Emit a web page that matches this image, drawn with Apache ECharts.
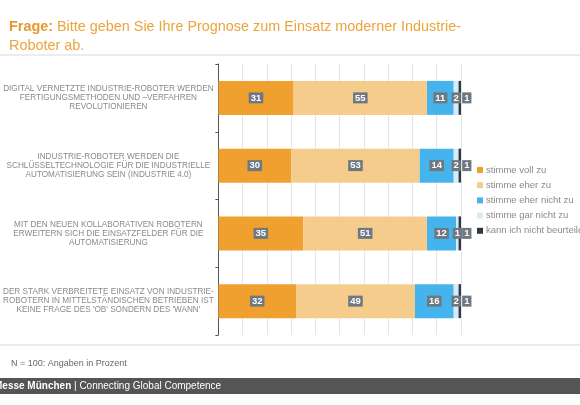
<!DOCTYPE html>
<html>
<head>
<meta charset="utf-8">
<script src="https://cdn.jsdelivr.net/npm/echarts@6/dist/echarts.min.js"></script>
<style>
  html, body { margin: 0; padding: 0; background: #fff; }
  #chart { width: 580px; height: 405px; }
</style>
</head>
<body>
<div id="chart"></div>
<script>
var statements = [
  'DIGITAL VERNETZTE INDUSTRIE-ROBOTER WERDEN\nFERTIGUNGSMETHODEN UND \u2013VERFAHREN\nREVOLUTIONIEREN',
  'INDUSTRIE-ROBOTER WERDEN DIE\nSCHL\u00dcSSELTECHNOLOGIE F\u00dcR DIE INDUSTRIELLE\nAUTOMATISIERUNG SEIN (INDUSTRIE 4.0)',
  'MIT DEN NEUEN KOLLABORATIVEN ROBOTERN\nERWEITERN SICH DIE EINSATZFELDER F\u00dcR DIE\nAUTOMATISIERUNG',
  'DER STARK VERBREITETE EINSATZ VON INDUSTRIE-\nROBOTERN IN MITTELST\u00c4NDISCHEN BETRIEBEN IST\nKEINE FRAGE DES \'OB\' SONDERN DES \'WANN\''
];
var answers = ['stimme voll zu', 'stimme eher zu', 'stimme eher nicht zu', 'stimme gar nicht zu', 'kann ich nicht beurteilen'];
var vollZu      = [31, 30, 35, 32];
var eherZu      = [55, 53, 51, 49];
var eherNicht   = [11, 14, 12, 16];
var garNicht    = [2, 2, 1, 2];
var nichtBeurt  = [1, 1, 1, 1];
var colors = ['#f0a02e', '#f6cc8d', '#45b4ec', '#d5ebf6', '#2d3a44'];

var seriesData = [vollZu, eherZu, eherNicht, garNicht, nichtBeurt];

var myChart = echarts.init(document.getElementById('chart'));

var option = {
  animation: false,
  textStyle: { fontFamily: 'Liberation Sans, Arial, sans-serif' },
  color: colors,
  title: {
    left: 4,
    top: 13,
    text: '{b|Frage:} Bitte geben Sie Ihre Prognose zum Einsatz moderner Industrie-\nRoboter ab.',
    textStyle: {
      color: '#eca43c',
      fontSize: 14.4,
      fontWeight: 'normal',
      lineHeight: 19,
      rich: {
        b: { color: '#e49a30', fontSize: 14.4, fontWeight: 'bold', lineHeight: 19 }
      }
    }
  },
  legend: {
    orient: 'vertical',
    left: 472,
    top: 160,
    itemWidth: 6,
    itemHeight: 6,
    itemGap: 5.2,
    icon: 'rect',
    data: answers,
    textStyle: { color: '#8a8a8a', fontSize: 9.5, padding: [0, 0, 0, -2] }
  },
  grid: {
    left: 218,
    right: 119,
    top: 64,
    bottom: 70
  },
  xAxis: {
    type: 'value',
    min: 0,
    max: 100,
    interval: 10,
    axisLine: { show: false },
    axisTick: { show: false },
    axisLabel: { show: false },
    splitLine: { lineStyle: { color: '#e6e6e6' } }
  },
  yAxis: {
    type: 'category',
    inverse: true,
    data: statements,
    axisLine: { lineStyle: { color: '#555' } },
    axisTick: { show: true, length: 3, lineStyle: { color: '#555' } },
    axisLabel: {
      margin: 110,
      align: 'center',
      color: '#8a8a8a',
      fontSize: 8.2,
      lineHeight: 9
    }
  },
  graphic: [
    { type: 'rect', shape: { x: 0, y: 54, width: 580, height: 2 }, style: { fill: '#ececec' } },
    { type: 'rect', shape: { x: 0, y: 344, width: 580, height: 2 }, style: { fill: '#ececec' } },
    { type: 'text', left: 11, top: 359, style: { text: 'N = 100: Angaben in Prozent', fill: '#666', fontSize: 9, fontFamily: 'Liberation Sans, Arial, sans-serif' } },
    { type: 'rect', shape: { x: 0, y: 378, width: 580, height: 16 }, style: { fill: '#555' } },
    {
      type: 'text', x: -6, y: 381,
      style: {
        text: '{b|Messe M\u00fcnchen} | Connecting Global Competence',
        fill: '#fff', fontSize: 10, fontFamily: 'Liberation Sans, Arial, sans-serif',
        rich: { b: { fontWeight: 'bold', fill: '#fff', fontSize: 10 } }
      }
    }
  ],
  series: (function () {
    var results = [];
    for (var i = 0; i < answers.length; ++i) {
      results[i] = {
        name: answers[i],
        type: 'bar',
        stack: 'total',
        barWidth: 34,
        data: seriesData[i],
        label: {
          show: true,
          position: 'inside',
          offset: i == 4 ? [7, 0] : [0, 0],
          color: '#fff',
          fontWeight: 'bold',
          fontSize: 9.5,
          backgroundColor: '#6e7880',
          padding: [1, 2, 0, 2]
        }
      };
    }
    return results;
  })()
};

myChart.setOption(option);
</script>
</body>
</html>
